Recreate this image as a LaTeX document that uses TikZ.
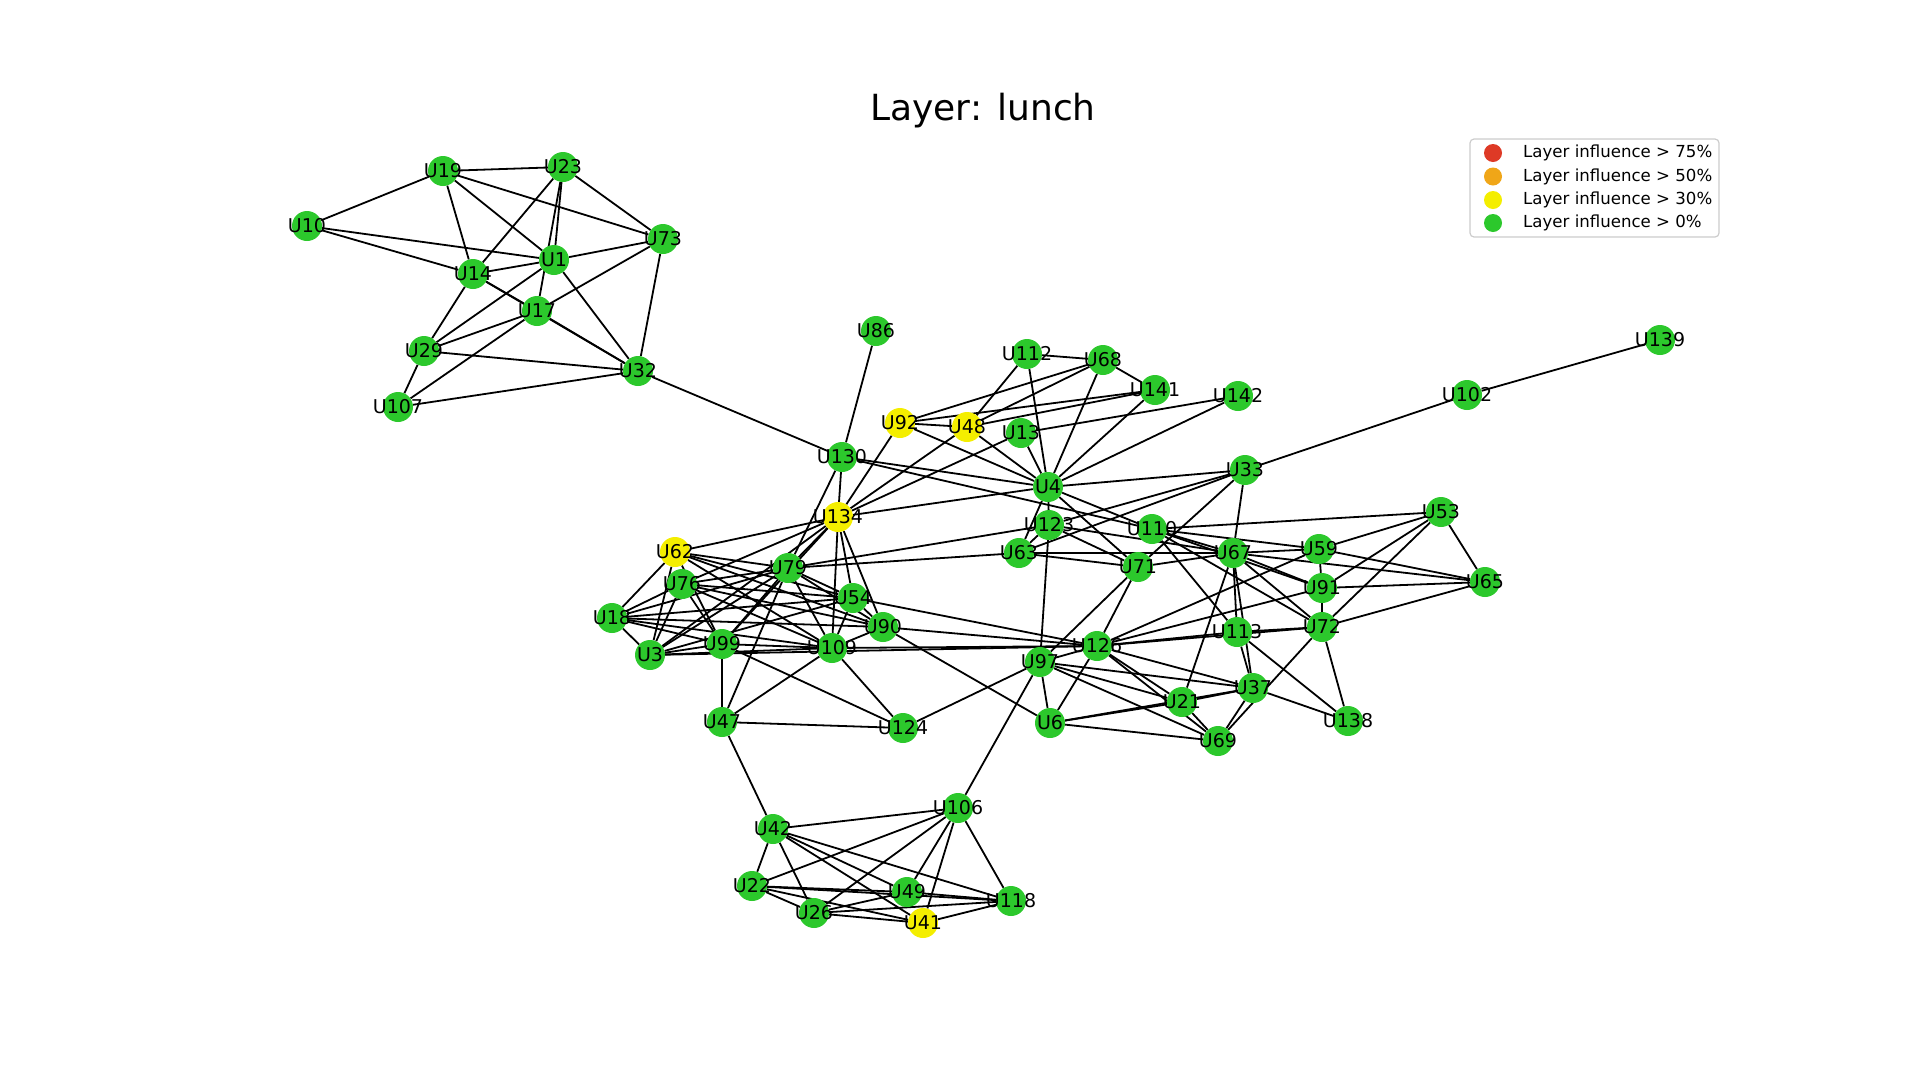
\documentclass[tikz,border=0pt]{standalone}
\usepackage{fontspec}
\setmainfont{DejaVu Sans}
\pgfdeclarelayer{edges}
\pgfsetlayers{edges,main}
\definecolor{ngreen}{RGB}{44,200,44}
\definecolor{nyellow}{RGB}{244,238,0}
\definecolor{lred}{RGB}{222,58,38}
\definecolor{lorange}{RGB}{240,166,24}
\begin{document}
\begin{tikzpicture}[x=1pt,y=-1pt,
 gnode/.style={circle,fill=ngreen,minimum size=30pt,inner sep=0pt,font=\fontsize{19}{19}\selectfont},
 ynode/.style={gnode,fill=nyellow},
 edge/.style={line width=1.8pt,black},
 legdot/.style={circle,minimum size=18pt,inner sep=0pt},
 legtext/.style={anchor=west,font=\fontsize{16.6}{17}\selectfont,inner sep=0pt}]
\useasboundingbox (0,0) rectangle (1920,1080);

\node[font=\fontsize{36}{36}\selectfont] (title) at (983,111) {Layer: lunch};

\foreach \n/\x/\y in {U19/443/171, U23/563/167, U10/307/226, U73/663/239, U1/554/260, U14/473/274,
  U17/537/311, U29/424/351, U32/638/371, U107/398/407, U86/876/331, U112/1027/354, U68/1103/360,
  U141/1155/390, U142/1238/396, U13/1021/433, U130/842/457, U4/1048/487, U33/1245/470,
  U102/1467/395, U139/1660/340, U123/1049/525, U110/1152/529, U63/1019/553, U67/1233/553,
  U53/1441/512, U59/1319/549, U71/1138/567, U91/1322/588, U65/1485/582, U72/1322/627,
  U113/1237/632, U126/1097/646, U97/1040/662, U37/1253/688, U21/1182/702, U6/1050/723,
  U69/1218/741, U138/1348/721, U79/788/568, U76/682/584, U54/853/598, U18/612/618,
  U90/883/627, U99/722/644, U109/832/648, U3/650/655, U47/722/722, U124/903/728,
  U106/958/808, U42/773/829, U22/752/886, U49/907/892, U118/1011/901, U26/814/913}
  \node[gnode] (\n) at (\x,\y) {\makebox[0pt]{\n}};

\foreach \n/\x/\y in {U92/900/423, U48/967/427, U134/838/517, U62/675/552, U41/923/923}
  \node[ynode] (\n) at (\x,\y) {\makebox[0pt]{\n}};

\begin{pgfonlayer}{edges}
\foreach \a/\b in {U19/U23, U19/U10, U19/U14, U19/U1, U19/U73, U23/U73, U23/U14, U23/U1, U23/U17,
  U10/U1, U10/U14, U1/U73, U1/U14, U1/U29, U1/U32, U73/U17, U73/U32, U14/U17, U14/U32, U17/U32,
  U14/U29, U17/U29, U17/U107, U29/U32, U29/U107, U107/U32, U32/U130,
  U86/U130, U112/U68, U112/U48, U112/U4, U68/U92, U68/U48, U68/U141, U68/U4, U141/U92, U141/U48,
  U141/U4, U142/U13, U142/U4, U92/U48, U92/U4, U92/U134, U48/U4, U48/U134, U13/U4, U13/U134,
  U130/U4, U130/U134, U130/U110, U130/U79,
  U4/U33, U4/U134, U4/U123, U4/U63, U4/U71, U4/U110,
  U33/U102, U102/U139, U33/U63, U33/U123, U33/U71, U33/U67,
  U123/U63, U123/U97, U123/U71, U123/U67, U79/U123, U63/U67, U63/U71, U79/U63,
  U110/U53, U110/U67, U110/U59, U110/U91, U110/U72, U110/U113,
  U67/U59, U67/U91, U67/U72, U67/U65, U67/U113, U67/U37, U67/U21, U67/U71,
  U59/U53, U59/U65, U59/U91, U59/U126, U91/U53, U91/U65, U91/U72, U91/U126,
  U72/U53, U72/U65, U72/U113, U72/U138, U72/U69, U72/U126, U53/U65,
  U113/U126, U113/U37, U113/U138, U37/U138, U37/U69, U37/U21, U37/U6, U37/U126, U37/U97,
  U21/U6, U21/U126, U21/U97, U21/U69, U69/U6, U69/U126, U69/U97, U6/U97, U6/U126, U6/U90,
  U97/U71, U97/U126, U97/U124, U97/U106, U126/U71,
  U62/U134, U62/U18, U62/U3, U62/U79, U62/U54, U62/U90, U62/U109, U62/U99,
  U76/U79, U76/U54, U76/U90, U76/U109, U76/U99, U76/U3, U76/U18, U76/U134,
  U18/U79, U18/U54, U18/U90, U18/U109, U18/U99, U18/U3,
  U3/U79, U3/U54, U3/U99, U3/U109, U3/U134, U3/U126,
  U79/U99, U79/U54, U79/U90, U79/U109, U79/U47, U79/U134,
  U134/U99, U134/U109, U134/U54, U134/U90,
  U99/U124, U99/U47, U99/U109, U109/U47, U109/U124, U109/U126, U109/U90, U109/U54,
  U54/U126, U54/U90, U90/U126, U47/U124, U47/U42,
  U106/U42, U106/U22, U106/U26, U106/U49, U106/U41, U106/U118,
  U42/U22, U42/U26, U42/U49, U42/U41, U42/U118, U22/U49, U22/U118, U22/U26, U22/U41,
  U26/U49, U26/U118, U26/U41, U41/U118, U49/U118}
  \draw[edge] (\a) -- (\b);
\end{pgfonlayer}

% legend
\node[draw=black!20, rounded corners=4pt, fill=white, line width=1.2pt,
  minimum width=249pt, minimum height=98pt, inner sep=0pt] (legbox) at (1594.5,188) {};
\node[legdot, fill=lred] (d1) at (1493,153) {};
\node[legdot, fill=lorange] (d2) at (1493,176.5) {};
\node[legdot, fill=nyellow] (d3) at (1493,200) {};
\node[legdot, fill=ngreen] (d4) at (1493,223) {};
\node[legtext] (t1) at (1523,153) {Layer influence > 75\%};
\node[legtext] (t2) at (1523,176.5) {Layer influence > 50\%};
\node[legtext] (t3) at (1523,200) {Layer influence > 30\%};
\node[legtext] (t4) at (1523,223) {Layer influence > 0\%};
\end{tikzpicture}
\end{document}
